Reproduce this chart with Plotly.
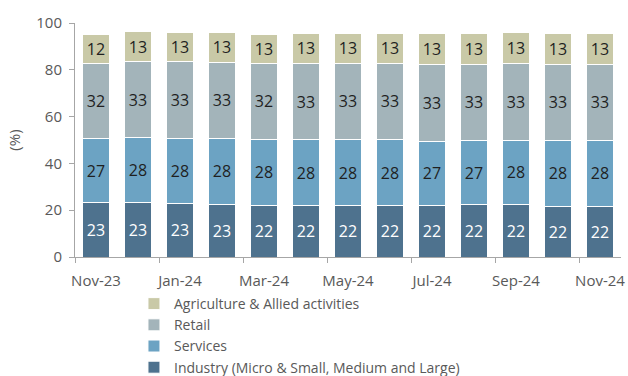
import plotly.graph_objects as go

months = ["Nov-23", "Dec-23", "Jan-24", "Feb-24", "Mar-24", "Apr-24", "May-24",
          "Jun-24", "Jul-24", "Aug-24", "Sep-24", "Oct-24", "Nov-24"]
industry = [23.1, 23.1, 22.9, 22.6, 22.1, 22.1, 22.1, 22.1, 22.1, 22.3, 22.3, 21.7, 21.7]
services = [27.4, 27.9, 27.7, 28.0, 28.2, 28.0, 28.0, 28.0, 27.4, 27.4, 27.7, 28.0, 28.0]
retail = [32.4, 32.6, 32.8, 32.6, 32.4, 32.6, 32.8, 32.8, 32.7, 32.7, 32.6, 32.7, 32.7]
agri = [12.4, 12.6, 12.6, 12.9, 12.6, 12.9, 12.7, 12.7, 13.2, 13.2, 13.2, 13.2, 13.2]

series = [
    ("Industry (Micro & Small, Medium and Large)", industry, "#4E728E", "white"),
    ("Services", services, "#6CA3C3", "#1f1f1f"),
    ("Retail", retail, "#A3B4BA", "#1f1f1f"),
    ("Agriculture & Allied activities", agri, "#C9C9A7", "#1f1f1f"),
]

FONT = "Open Sans"
fig = go.Figure()
for name, vals, color, tcolor in series:
    fig.add_trace(go.Bar(
        x=months, y=vals, name=name,
        marker=dict(color=color, line=dict(color="white", width=1)),
        texttemplate="%{y:.0f}", textposition="inside", insidetextanchor="middle",
        textfont=dict(color=tcolor, size=16, family=FONT),
        textangle=0,
    ))

fig.update_layout(
    barmode="stack", bargap=0.35,
    width=628, height=376,
    margin=dict(l=75, r=7, t=23, b=119),
    plot_bgcolor="white", paper_bgcolor="white",
    font=dict(family=FONT, size=15, color="#595959"),
    uniformtext=dict(mode=False),
    showlegend=True,
    legend=dict(orientation="v", traceorder="reversed", x=0.108, xanchor="left",
                xref="paper", yref="container", y=0.234, yanchor="top",
                font=dict(size=14, color="#595959"),
                itemwidth=30, tracegroupgap=0, bgcolor="rgba(0,0,0,0)"),
    xaxis=dict(type="category", showline=True, linecolor="#A6A6A6", linewidth=1,
               ticks="outside", tickson="boundaries", ticklen=5, tickcolor="#A6A6A6",
               dtick=2, tickangle=0, automargin=False, showgrid=False,
               ticklabelstandoff=10,
               tickfont=dict(size=15, color="#595959")),
    yaxis=dict(range=[0, 100], dtick=20, showline=True, linecolor="#A6A6A6",
               linewidth=1, ticks="outside", ticklen=5, tickcolor="#A6A6A6",
               showgrid=False, zeroline=False, automargin=False,
               ticklabelstandoff=4,
               title=dict(text="(%)", standoff=12, font=dict(size=15, color="#595959")),
               tickfont=dict(size=15, color="#595959")),
)

fig.write_html("out.html")
